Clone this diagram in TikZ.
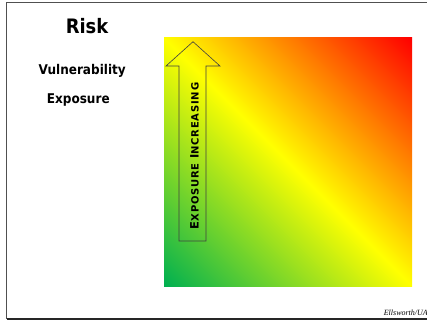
\documentclass[tikz,border=0pt]{standalone}
\usepackage{fontspec}
\newfontfamily\headfont{DejaVu Sans Bold}[FakeStretch=0.9]
\newfontfamily\arrowfont{DejaVu Sans Bold}[LetterSpace=8]
\newfontfamily\signfont{Liberation Serif Italic}
\definecolor{grn}{RGB}{0,176,80}
\definecolor{framegray}{RGB}{80,80,80}
\pgfdeclareverticalshading{diagshade}{100bp}{color(0bp)=(grn); color(25bp)=(grn); color(50bp)=(yellow); color(75bp)=(red); color(100bp)=(red)}
\tikzset{
  frameline/.style={draw=framegray, line width=1.6pt},
  heading/.style={inner sep=0pt, anchor=base},
  arrowoutline/.style={draw=black!75, line width=0.6pt, line join=miter},
}
\begin{document}
\begin{tikzpicture}[x=1pt,y=1pt]
\useasboundingbox (0,0) rectangle (427,321);
% frame
\coordinate (fbl) at (6.5,2);
\coordinate (ftl) at (6.5,318.5);
\coordinate (ftr) at (430,318.5);
\coordinate (fbr) at (430,2);
\draw[frameline] (ftr) -- (ftl) -- (fbl);
\draw[frameline, draw=black!85] (fbl) -- (fbr);
% gradient square
\begin{scope}
  \clip (164,35) rectangle (412,283);
  \shade[shading=diagshade, shading angle=-45] (112.6,-16.4) rectangle (463.4,334.4);
\end{scope}
% arrow
\coordinate (tip) at (193,279.3);
\draw[arrowoutline] (tip) -- (220,255) -- (206,255) -- (206,80) -- (179,80) -- (179,255) -- (166,255) -- cycle;
\node[rotate=90, anchor=base, inner sep=0pt, font=\arrowfont] (arrowtext) at (198.5,165)
  {{\fontsize{11.5}{12}\selectfont E}{\fontsize{10}{10}\selectfont XPOSURE} {\fontsize{11.5}{12}\selectfont I}{\fontsize{10}{10}\selectfont NCREASING}};
% headings
\node[heading, font=\headfont\fontsize{19.9}{22}\selectfont] (risk) at (87,287.7) {Risk};
\node[heading, font=\headfont\fontsize{13.4}{16}\selectfont] (vuln) at (82.2,246) {Vulnerability};
\node[heading, font=\headfont\fontsize{13.4}{16}\selectfont] (expo) at (78.3,217.7) {Exposure};
% signature
\node[anchor=base east, inner sep=0pt, font=\signfont\fontsize{8}{9}\selectfont] (sign) at (428,6) {Ellsworth/UA};
\end{tikzpicture}
\end{document}
